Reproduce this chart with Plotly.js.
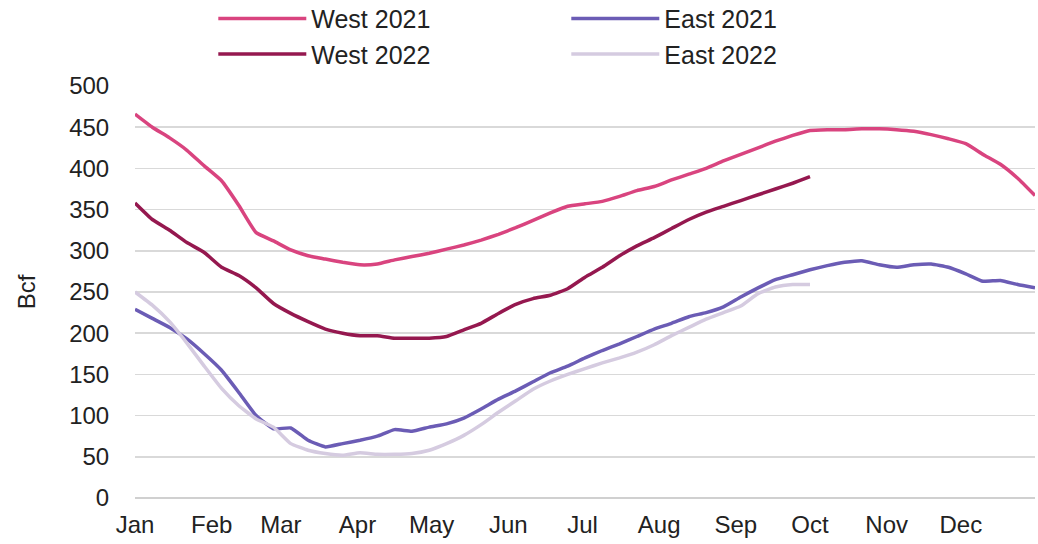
<!DOCTYPE html>
<html>
<head>
<meta charset="utf-8">
<script src="https://cdn.plot.ly/plotly-3.0.1.min.js"></script>
<style>html,body{margin:0;padding:0;background:#fff;}#chart{width:1038px;height:544px;}</style>
</head>
<body>
<div id="chart"></div>
<script>
// Weekly storage, Bcf (week index 0..52)
const monthLabels = ["Jan","Feb","Mar","Apr","May","Jun","Jul","Aug","Sep","Oct","Nov","Dec"];
const monthStartDays = [0,31,59,90,120,151,181,212,243,273,304,334];
const yTicks = [0,50,100,150,200,250,300,350,400,450,500];

const west2021 = [466,450,437,422,403,385,355,322,312,301,294,290,286,283,284,289,293,297,302,307,313,320,328,337,346,354,357,360,366,373,378,386,393,400,409,417,425,433,440,446,447,447,448,448,447,445,441,436,430,417,405,388,367];
const west2022 = [358,338,325,310,298,280,270,255,236,224,214,205,200,197,197,194,194,194,196,204,212,224,235,242,246,254,268,280,294,306,316,327,338,347,354,361,368,375,382,390];
const east2021 = [229,218,207,193,175,155,128,100,84,85,70,62,66,70,75,83,81,86,90,97,108,120,130,141,152,160,170,179,187,196,205,212,220,225,232,244,255,265,271,277,282,286,288,283,280,283,284,280,272,263,264,259,255];
const east2022 = [250,234,214,188,160,133,112,96,86,66,58,54,52,55,53,53,54,58,66,76,89,104,118,132,142,150,157,164,170,177,186,197,207,217,225,233,248,256,259,259];

const weekDay = arr => arr.map((_, i) => i * 7);

const mk = (name, ys, color) => ({
  type: 'scatter', mode: 'lines', name: name,
  x: weekDay(ys), y: ys,
  line: {color: color, width: 3.5, shape: 'spline', smoothing: 0.4}
});

const data = [
  mk('West 2021', west2021, '#d9447f'),
  mk('East 2021', east2021, '#6b5cb5'),
  mk('West 2022', west2022, '#95184f'),
  mk('East 2022', east2022, '#d5cbe0')
];

const layout = {
  width: 1038, height: 544,
  margin: {l: 135, r: 3, t: 86, b: 46, autoexpand: false},
  paper_bgcolor: '#fff', plot_bgcolor: '#fff',
  font: {family: 'Liberation Sans, Arial, sans-serif', size: 24, color: '#222'},
  showlegend: true,
  legend: {
    orientation: 'h', x: 0.087, xanchor: 'left', y: 1.219, yanchor: 'top',
    entrywidth: 250, entrywidthmode: 'pixels', itemwidth: 88,
    font: {size: 25, color: '#222'}, tracegroupgap: 0, bgcolor: 'rgba(0,0,0,0)'
  },
  xaxis: {
    type: 'linear', range: [0, 364],
    tickvals: monthStartDays, ticktext: monthLabels,
    showgrid: false, zeroline: false, showline: false,
    ticks: 'outside', ticklen: 5, tickcolor: 'rgba(0,0,0,0)',
    tickfont: {size: 24, color: '#222'}
  },
  yaxis: {
    range: [0, 500], tickvals: yTicks,
    showgrid: true, gridcolor: '#d9d9d9', gridwidth: 1.5,
    zeroline: true, zerolinecolor: '#d0d0d0', zerolinewidth: 1.5,
    ticks: 'outside', ticklen: 20, tickcolor: 'rgba(0,0,0,0)',
    tickfont: {size: 24, color: '#222'},
    title: {text: 'Bcf', font: {size: 24, color: '#222'}, standoff: 26}
  }
};

Plotly.newPlot('chart', data, layout, {staticPlot: true, displayModeBar: false});
</script>
</body>
</html>
